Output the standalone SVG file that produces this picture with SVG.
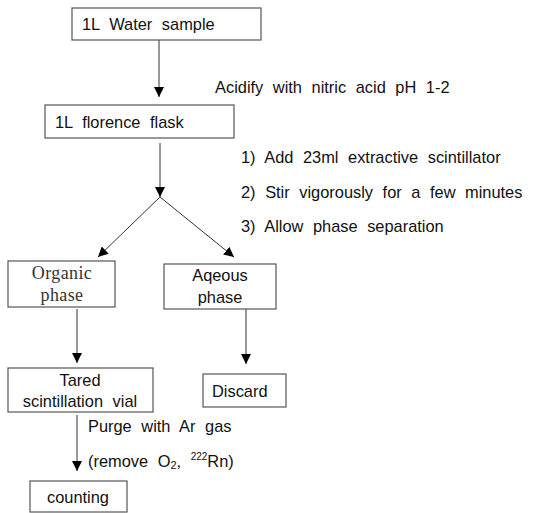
<svg xmlns="http://www.w3.org/2000/svg" width="533" height="513" viewBox="0 0 533 513">
<style>
.box{fill:#fff;stroke:#555;stroke-width:1.2}
.t{font-family:"Liberation Sans",Arial,sans-serif;font-size:16.4px;fill:#111;word-spacing:5px}
.s{font-family:"Liberation Serif","Times New Roman",serif;font-size:18px;fill:#333;letter-spacing:0.4px}
.c{stroke:#333;stroke-width:1;fill:none}
</style>
<defs>
<marker id="ah" viewBox="0 0 10 10" refX="10" refY="5" markerWidth="10" markerHeight="10" markerUnits="userSpaceOnUse" orient="auto">
<path d="M0,0 L10,5 L0,10 z" fill="#000"/>
</marker>
</defs>
<rect width="533" height="513" fill="#fff"/>
<g id="connectors">
<line class="c" x1="159" y1="40" x2="159" y2="97" marker-end="url(#ah)"/>
<line class="c" x1="160" y1="143" x2="160" y2="197" marker-end="url(#ah)"/>
<line class="c" x1="160" y1="197" x2="98" y2="257" marker-end="url(#ah)"/>
<line class="c" x1="160" y1="197" x2="234" y2="257" marker-end="url(#ah)"/>
<line class="c" x1="77" y1="309" x2="77" y2="363" marker-end="url(#ah)"/>
<line class="c" x1="246" y1="309" x2="246" y2="364" marker-end="url(#ah)"/>
<line class="c" x1="77" y1="415" x2="77" y2="471" marker-end="url(#ah)"/>
</g>
<g id="labels">
<text class="t" x="215" y="93">Acidify with nitric acid pH 1-2</text>
<text class="t" x="241" y="163">1) Add 23ml extractive scintillator</text>
<text class="t" x="241" y="198">2) Stir vigorously for a few minutes</text>
<text class="t" x="241" y="232">3) Allow phase separation</text>
<text class="t" x="88" y="432">Purge with Ar gas</text>
<text class="t" x="88" y="467">(remove O<tspan font-size="11" dy="2">2</tspan><tspan dy="-2">,</tspan> <tspan font-size="10" dy="-7">222</tspan><tspan dy="7">Rn)</tspan></text>
</g>
<g id="water">
<rect class="box" x="72" y="8" width="189" height="32"/>
<text class="t" x="82" y="30">1L Water sample</text>
</g>
<g id="flask">
<rect class="box" x="45" y="105" width="189" height="33"/>
<text class="t" x="55" y="128">1L florence flask</text>
</g>
<g id="organic">
<rect class="box" x="8" y="261" width="107" height="46"/>
<text class="s" x="62" y="279" text-anchor="middle">Organic</text>
<text class="s" x="62" y="301" text-anchor="middle">phase</text>
</g>
<g id="aqueous">
<rect class="box" x="164" y="264" width="112" height="45"/>
<text class="t" x="220" y="281" text-anchor="middle">Aqeous</text>
<text class="t" x="220" y="303" text-anchor="middle">phase</text>
</g>
<g id="tared">
<rect class="box" x="8" y="368" width="145" height="44"/>
<text class="t" x="80" y="386" text-anchor="middle">Tared</text>
<text class="t" x="80" y="407" text-anchor="middle">scintillation vial</text>
</g>
<g id="discard">
<rect class="box" x="203" y="374" width="83" height="33"/>
<text class="t" x="212" y="397">Discard</text>
</g>
<g id="counting">
<rect class="box" x="30" y="481" width="97" height="31"/>
<text class="t" x="47" y="503">counting</text>
</g>
</svg>
